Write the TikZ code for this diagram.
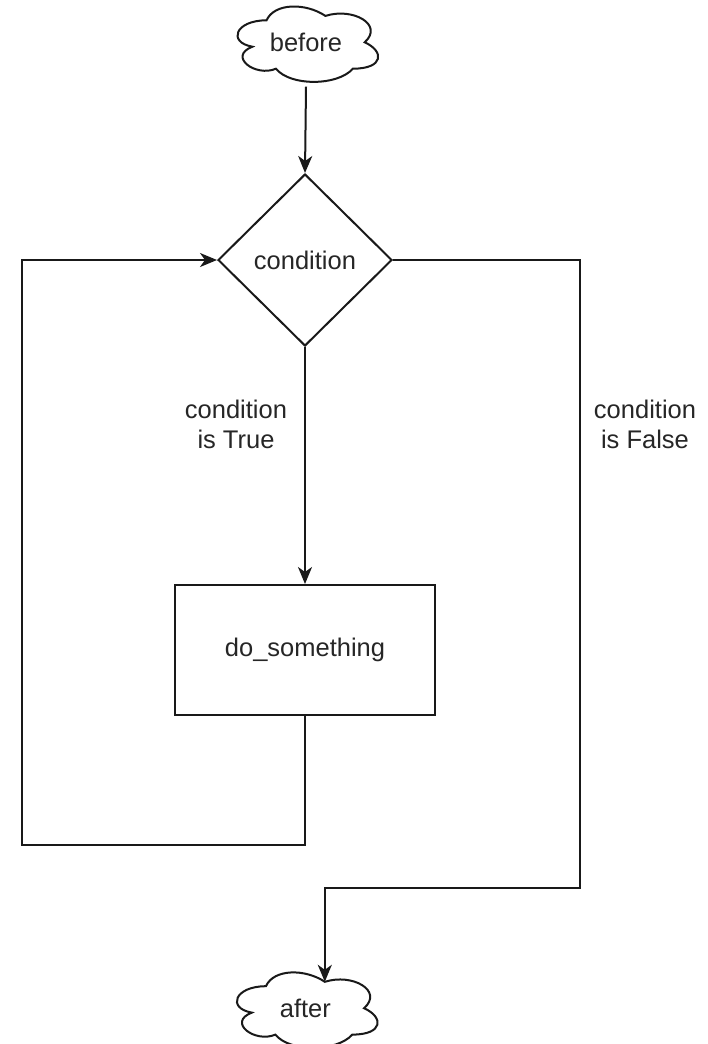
\documentclass[tikz,border=0pt]{standalone}
\usepackage{fontspec}
\setmainfont{Liberation Sans}
\usetikzlibrary{shapes.geometric,arrows.meta,calc}

\tikzset{
  base/.style={font=\fontsize{25.5pt}{30pt}\selectfont, text=black!85, align=center},
  flowline/.style={line width=2pt, draw=black!90},
  flowarrow/.style={flowline, -{Stealth[length=17pt, width=14pt, inset=5pt]}},
  decision/.style={base, shape=diamond, draw=black!90, line width=2pt,
    minimum width=174pt, minimum height=172pt, inner sep=0pt},
  process/.style={base, shape=rectangle, draw=black!90, line width=2pt,
    minimum width=260pt, minimum height=130pt},
  % text box of a cloud terminal, 157 x 88
  terminal/.style={base, shape=rectangle, minimum width=157pt, minimum height=88pt,
    inner sep=0pt},
  % cloud outline, placed at the north west corner of its box
  pics/cloudoutline/.style={code={
    \draw[flowline, x=157pt, y=-88pt]
      (0.25,0.25) .. controls (0.05,0.25) and (0,0.5) .. (0.16,0.55)
      .. controls (0,0.66) and (0.18,0.9) .. (0.31,0.8)
      .. controls (0.4,1) and (0.7,1) .. (0.8,0.8)
      .. controls (1,0.8) and (1,0.6) .. (0.875,0.5)
      .. controls (1,0.3) and (0.8,0.1) .. (0.625,0.2)
      .. controls (0.5,0.05) and (0.3,0.05) .. (0.25,0.25) -- cycle;
  }},
  edgelabel/.style={base}
}

\begin{document}
\begin{tikzpicture}[x=1pt, y=-1pt]
  \useasboundingbox (0,0) rectangle (707,1044);

  % blocks
  \node[terminal] (before) at (306,42.5) {before};
  \pic at (before.north west) {cloudoutline};
  \node[decision] (cond) at (305,260) {condition};
  \node[process] (work) at (305,650) {do\_something};
  \node[terminal] (after) at (305.4,1008.4) {after};
  \pic at (after.north west) {cloudoutline};

  % labels of the two branches
  \node[edgelabel] (truelbl) at (236,424) {condition\\is True};
  \node[edgelabel] (falselbl) at (645,424) {condition\\is False};

  % routing points
  \coordinate (loopcorner) at (22,845);
  \coordinate (exitcorner) at (580,888);
  \coordinate (afterdip) at ($(after.north west)+(98.1,17.6)$);

  % connectors
  \draw[flowarrow] (before.south) -- (cond.north);
  \draw[flowarrow] (cond.south) -- (work.north);
  \draw[flowarrow] (work.south) |- (loopcorner) |- (cond.west);
  \draw[flowarrow] (cond.east) -| (exitcorner) -| (afterdip);
\end{tikzpicture}
\end{document}
